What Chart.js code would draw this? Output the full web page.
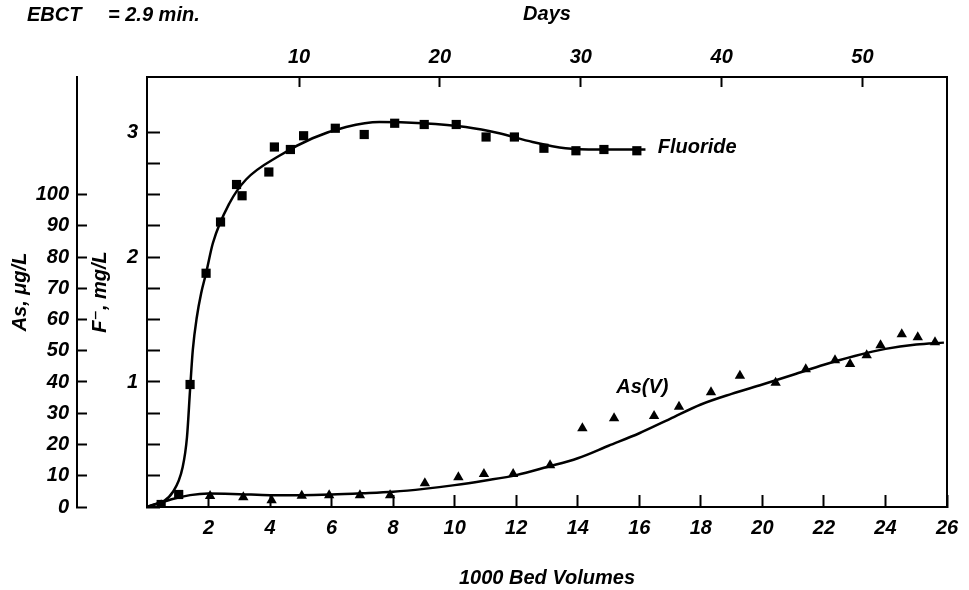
<!DOCTYPE html>
<html>
<head>
<meta charset="utf-8">
<script src="https://cdn.jsdelivr.net/npm/chart.js@4.4.1/dist/chart.umd.min.js"></script>
<style>
  body { margin: 0; background: #fff; }
  canvas { display: block; }
</style>
</head>
<body>
<canvas id="breakthrough-chart" width="969" height="590"></canvas>
<script>
/* measured fluoride, F- mg/L against 1000 bed volumes */
let fluorideBV   = [0.46, 1.03, 1.40, 1.92, 2.39, 2.91, 3.09, 3.96, 4.14, 4.66, 5.09, 6.12, 7.06, 8.05, 9.01, 10.05, 11.02, 11.94, 12.90, 13.94, 14.85, 15.92]
let fluorideConc = [0.02, 0.10, 0.98, 1.87, 2.28, 2.58, 2.49, 2.68, 2.88, 2.86, 2.97, 3.03, 2.98, 3.07, 3.06, 3.06, 2.96, 2.96, 2.87, 2.85, 2.86, 2.85]

// hand drawn curve through the fluoride points
let fluorideCurveBV   = [0, 0.84, 1.16, 1.30, 1.40, 1.49, 1.62, 1.76, 1.92, 2.14, 2.68, 3.22, 4.30, 5.38, 6.47, 7.55, 8.95, 10.36, 11.45, 12.53, 13.6, 14.69, 16.2]
let fluorideCurveConc = [0, 0.12, 0.32, 0.56, 0.94, 1.26, 1.52, 1.71, 1.87, 2.11, 2.43, 2.62, 2.81, 2.95, 3.04, 3.08, 3.07, 3.04, 2.99, 2.92, 2.87, 2.86, 2.86]

/* measured arsenic As(V), ug/L */
let arsenicBV   = [0.46, 2.05, 3.13, 4.05, 5.03, 5.92, 6.92, 7.90, 9.03, 10.12, 10.95, 11.90, 13.10, 14.15, 15.18, 16.48, 17.29, 18.33, 19.27, 20.43, 21.41, 22.36, 22.85, 23.39, 23.84, 24.53, 25.05, 25.61]
let arsenicConc = [0.6, 3.5, 3.1, 2.2, 3.6, 3.8, 3.8, 3.8, 7.6, 9.5, 10.6, 10.6, 13.4, 25.2, 28.4, 29.1, 32.1, 36.7, 42.0, 39.8, 44.1, 47.0, 45.8, 48.6, 51.8, 55.3, 54.3, 52.7]

// hand drawn curve through the arsenic points
let arsenicCurveBV   = [0, 0.4, 0.8, 1.4, 2, 3, 4, 5, 6, 7, 8, 9, 10, 11, 12, 13, 14, 15, 16, 17, 18, 19, 20, 21, 22, 23, 24, 25, 25.9]
let arsenicCurveConc = [0, 1.2, 2.5, 3.8, 4.3, 4.1, 3.8, 3.8, 4.0, 4.4, 4.9, 5.8, 7.0, 8.5, 10.2, 12.8, 15.6, 19.6, 23.6, 28.2, 32.8, 36.2, 39.2, 42.3, 45.5, 48.3, 50.6, 52.0, 52.6]

// tick values
let bvTicks       = [2, 4, 6, 8, 10, 12, 14, 16, 18, 20, 22, 24, 26]
let dayTicks      = [10, 20, 30, 40, 50]
let fluorideTicks = [0, 0.25, 0.5, 0.75, 1, 1.25, 1.5, 1.75, 2, 2.25, 2.5, 2.75, 3]
let arsenicTicks  = [0, 10, 20, 30, 40, 50, 60, 70, 80, 90, 100]

// where the curve names sit, in data units
let fluorideLabelAt = [16.6, 2.88]
let arsenicLabelAt  = [16.1, 38.4]

function toPoints(xs, ys) {
    return xs.map((x, i) => ({x: x, y: ys[i]}))
}

let family = "'Liberation Sans', 'DejaVu Sans', sans-serif"
let font = {family: family, size: 20, style: 'italic', weight: 'bold'}

let textPlugin = {
    id: 'curveText',
    afterDraw(chart) {
        let ctx = chart.ctx
        let s = chart.scales
        ctx.save()
        ctx.font = 'italic bold 20px ' + family
        ctx.fillStyle = 'black'
        ctx.textBaseline = 'middle'
        ctx.fillText('EBCT', 27, 15)
        ctx.fillText('= 2.9 min.', 108, 15)
        ctx.fillText('Fluoride', s.x.getPixelForValue(fluorideLabelAt[0]), s.yF.getPixelForValue(fluorideLabelAt[1]))
        ctx.textAlign = 'center'
        ctx.fillText('As(V)', s.x.getPixelForValue(arsenicLabelAt[0]), s.yAs.getPixelForValue(arsenicLabelAt[1]))
        ctx.restore()
    }
}

let context = document.querySelector('#breakthrough-chart').getContext('2d')

let breakthroughChart = new Chart(context, {
    type: 'line',
    data: {
        datasets: [
            {
                data: toPoints(fluorideCurveBV, fluorideCurveConc),
                xAxisID: 'x', yAxisID: 'yF',
                borderColor: 'black', borderWidth: 2.5,
                pointRadius: 0, cubicInterpolationMode: 'monotone', fill: false
            },
            {
                data: toPoints(fluorideBV, fluorideConc),
                xAxisID: 'x', yAxisID: 'yF',
                showLine: false, pointStyle: 'rect', pointRadius: 6.5,
                backgroundColor: 'black', borderColor: 'black', borderWidth: 0
            },
            {
                data: toPoints(arsenicCurveBV, arsenicCurveConc),
                xAxisID: 'x', yAxisID: 'yAs',
                borderColor: 'black', borderWidth: 2.5,
                pointRadius: 0, cubicInterpolationMode: 'monotone', fill: false
            },
            {
                data: toPoints(arsenicBV, arsenicConc),
                xAxisID: 'x', yAxisID: 'yAs',
                showLine: false, pointStyle: 'triangle', pointRadius: 6,
                backgroundColor: 'black', borderColor: 'black', borderWidth: 0
            }
        ]
    },
    options: {
        responsive: false,
        animation: false,
        devicePixelRatio: 1,
        layout: {padding: {left: 0, top: 0, right: 22, bottom: 0}},
        plugins: {legend: {display: false}, tooltip: {enabled: false}},
        scales: {
            x: {
                type: 'linear', position: 'bottom', min: 0, max: 26,
                afterBuildTicks: s => { s.ticks = bvTicks.map(v => ({value: v})) },
                afterFit: s => { s.height = 83; s.paddingRight = 0; s.paddingLeft = 0 },
                ticks: {color: 'black', font: font, padding: 21, autoSkip: false, maxRotation: 0},
                grid: {drawOnChartArea: false, tickLength: -12, tickWidth: 2, tickColor: 'black'},
                border: {color: 'black', width: 2},
                title: {display: true, text: '1000 Bed Volumes', color: 'black', font: font, padding: {top: 0, bottom: 0}}
            },
            xTop: {
                type: 'linear', position: 'top', min: -0.8, max: 56.0,
                afterBuildTicks: s => { s.ticks = dayTicks.map(v => ({value: v})) },
                afterFit: s => { s.height = 77; s.paddingRight = 0; s.paddingLeft = 0 },
                ticks: {color: 'black', font: font, padding: 18, autoSkip: false, maxRotation: 0},
                grid: {drawOnChartArea: false, tickLength: -10, tickWidth: 2, tickColor: 'black'},
                border: {color: 'black', width: 2},
                title: {display: true, text: 'Days', color: 'black', font: font, padding: {top: 2, bottom: 0}}
            },
            yF: {
                type: 'linear', position: 'left', weight: 0, min: 0, max: 3.44,
                afterBuildTicks: s => { s.ticks = fluorideTicks.map(v => ({value: v})) },
                afterFit: s => { s.width = 70 },
                ticks: {
                    color: 'black', font: font, padding: 22, autoSkip: false,
                    callback: v => (Number.isInteger(v) && v > 0) ? String(v) : ''
                },
                grid: {drawOnChartArea: false, tickLength: -13, tickWidth: 2, tickColor: 'black'},
                border: {color: 'black', width: 2},
                title: {display: true, text: 'F\u207B, mg/L', color: 'black', font: font, padding: {top: 11, bottom: 0}}
            },
            yAs: {
                type: 'linear', position: 'left', weight: 1, min: 0, max: 137.6,
                afterBuildTicks: s => { s.ticks = arsenicTicks.map(v => ({value: v})) },
                afterFit: s => { s.width = 77 },
                ticks: {color: 'black', font: font, padding: 18, autoSkip: false},
                grid: {drawOnChartArea: false, tickLength: -10, tickWidth: 2, tickColor: 'black'},
                border: {color: 'black', width: 2},
                title: {display: true, text: 'As, \u03BCg/L', color: 'black', font: font, padding: {top: 8, bottom: 0}}
            },
            yR: {
                type: 'linear', position: 'right', min: 0, max: 1,
                afterFit: s => { s.width = 0 },
                ticks: {display: false},
                grid: {drawOnChartArea: false, drawTicks: false},
                border: {color: 'black', width: 2}
            }
        }
    },
    plugins: [textPlugin]
})
</script>
</body>
</html>
